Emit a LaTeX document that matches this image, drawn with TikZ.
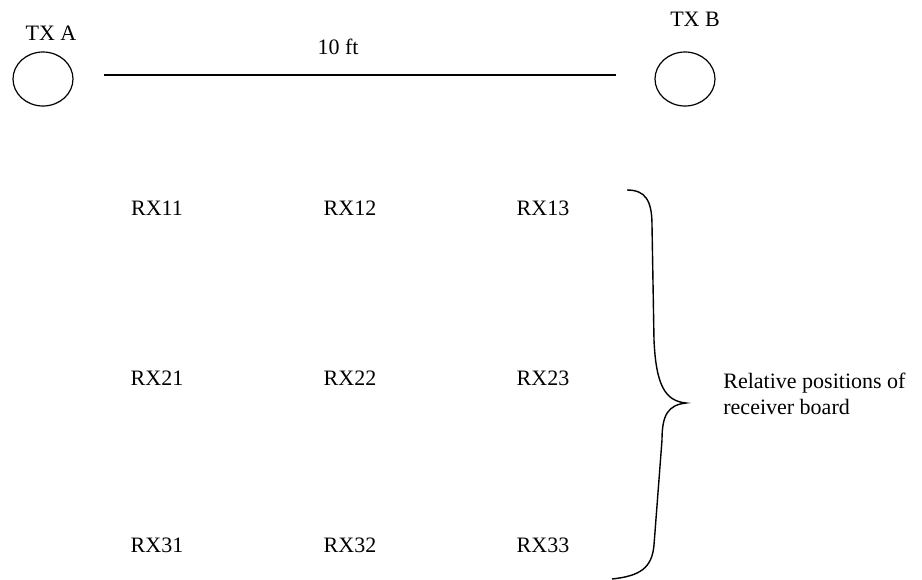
\documentclass[tikz,border=0pt]{standalone}
\usepackage{fontspec}
\setmainfont{Liberation Serif}
\usetikzlibrary{positioning, shapes.geometric}

\tikzset{
    lbl/.style={font=\fontsize{11}{13}\selectfont, inner sep=0pt},
    txcirc/.style={ellipse, draw, line width=0.6pt, minimum width=30pt, minimum height=27pt, inner sep=0pt}
}

\begin{document}
\begin{tikzpicture}[x=0.5pt, y=-0.5pt]
    \useasboundingbox (0,0) rectangle (922,579);

    % Zenders
    \node[txcirc] (txa) at (43,79) {};
    \node[txcirc] (txb) at (685,79) {};
    \node[lbl] (txalbl) at (51,33) {TX A};
    \node[lbl] (txblbl) at (695,19) {TX B};

    % Afstand
    \draw[line width=0.8pt, shorten <=15pt, shorten >=19pt] ([yshift=2pt]txa.east) -- ([yshift=2pt]txb.west);
    \node[lbl] (dist) at (338,47) {10 ft};

    % Ontvangers
    \foreach \r/\y in {1/208, 2/378, 3/545} {
        \foreach \c/\x in {1/157, 2/350, 3/543} {
            \node[lbl] (rx\r\c) at (\x,\y) {RX\r\c};
        }
    }

    % Accolade
    \coordinate (btop) at (627,190);
    \coordinate (btip) at (686,403);
    \coordinate (bbot) at (612,579);
    \draw[line width=0.7pt] (btop) .. controls (645,190) and (652,200) .. (652,225)
        -- (654,340) .. controls (656,385) and (665,401) .. (btip)
        .. controls (668,405) and (662,415) .. (662,440)
        -- (654,545) .. controls (652,568) and (640,576) .. (bbot);
    \node[lbl, align=left, anchor=west] (board) at (723,394) {Relative positions of\\receiver board};
\end{tikzpicture}
\end{document}
